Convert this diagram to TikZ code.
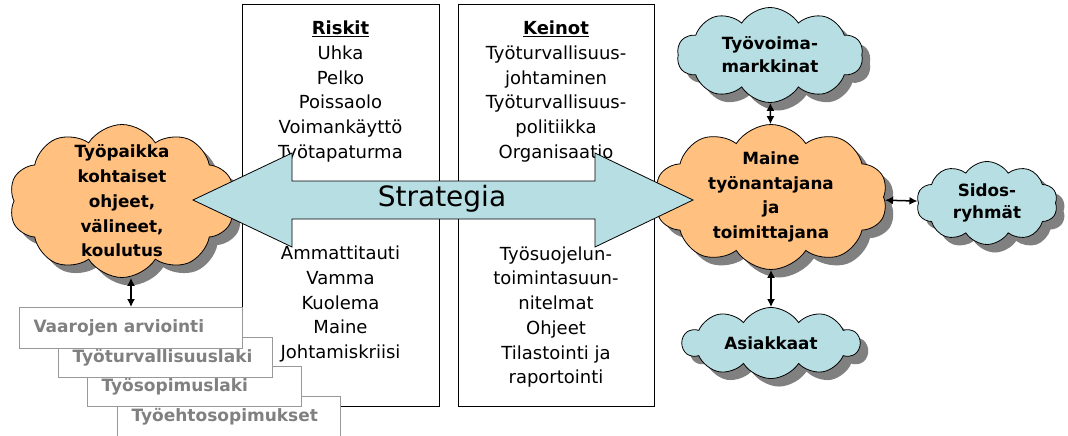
\documentclass[tikz,border=0pt]{standalone}
\usepackage{fontspec}
\setmainfont{DejaVu Sans}
\usetikzlibrary{shapes.symbols,shadows,arrows.meta}
\definecolor{oranssi}{RGB}{255,192,128}
\definecolor{vaaleansininen}{RGB}{183,222,226}
\definecolor{varjo}{RGB}{128,128,128}
\definecolor{harmaa}{RGB}{128,128,128}

\begin{document}
\begin{tikzpicture}[x=1pt, y=-1pt, line width=1pt,
		lista/.style={align=center, inner sep=0pt, font=\fontsize{18}{24.75}\selectfont},
		pilvi/.style={cloud, cloud puffs=10, cloud puff arc=115, draw=black, line width=0.8pt,
			align=center, inner sep=0pt, font=\bfseries\fontsize{16.8}{24.75}\selectfont,
			drop shadow={shadow xshift=8pt, shadow yshift=-8pt, fill=varjo, opacity=1}},
		isopilvi/.style={pilvi, fill=oranssi, inner sep=-30pt},
		laki/.style={draw=harmaa!80, fill=white, text=harmaa, align=left, inner xsep=14pt,
			minimum height=40pt, font=\bfseries\fontsize{17}{20}\selectfont},
		nuoli/.style={{Latex[length=8pt,width=8pt]}-{Latex[length=8pt,width=8pt]}, line width=1.5pt}]
	\useasboundingbox (0,0) rectangle (1068,436);
	% Riskit ja Keinot
	\draw (242,5) rectangle (439,406);
	\draw (458,5) rectangle (654,406);
	\node [lista] (riskitylä) at (340.5,91.5) {\textbf{\underline{Riskit}}\\Uhka\\Pelko\\Poissaolo\\Voimankäyttö\\Työtapaturma};
	\node [lista] (riskitala) at (340.5,304) {Ammattitauti\\Vamma\\Kuolema\\Maine\\Johtamiskriisi};
	\node [lista] (keinotylä) at (556,91.5) {\textbf{\underline{Keinot}}\\Työturvallisuus-\\johtaminen\\Työturvallisuus-\\politiikka\\Organisaatio};
	\node [lista] (keinotala) at (556,317) {Työsuojelun-\\toimintasuun-\\nitelmat\\Ohjeet\\Tilastointi ja\\raportointi};
	% Lait ja ohjeet
	\node [laki, anchor=north west, text width=195pt] (tyoehto) at (117,396) {Työehtosopimukset};
	\node [laki, anchor=north west, text width=186pt] (tyosopimus) at (87,366) {Työsopimuslaki};
	\node [laki, anchor=north west, text width=186pt] (tyoturva) at (58,337) {Työturvallisuuslaki};
	\node [laki, anchor=north west, text width=195pt, minimum height=41pt] (vaarat) at (19,307) {Vaarojen arviointi};
	% Pilvet
	\node [isopilvi, aspect=1.48, minimum width=226pt, minimum height=153pt] (tyopaikka) at (122,201) {Työpaikka\\kohtaiset\\ohjeet,\\välineet,\\koulutus};
	\node [isopilvi, aspect=1.6, minimum width=233pt, minimum height=145pt] (maine) at (771,197) {Maine\\työnantajana\\ja\\toimittajana};
	\node [pilvi, fill=vaaleansininen, aspect=1.96, minimum width=186pt, minimum height=95pt, font=\bfseries\fontsize{16.8}{23}\selectfont] (tyovoima) at (770,55) {Työvoima-\\markkinat};
	\node [pilvi, fill=vaaleansininen, aspect=1.7, minimum width=141pt, minimum height=83pt, font=\bfseries\fontsize{16.8}{22}\selectfont] (sidos) at (987,203) {Sidos-\\ryhmät};
	\node [pilvi, fill=vaaleansininen, aspect=2.57, minimum width=177pt, minimum height=69pt] (asiakkaat) at (771,343) {Asiakkaat};
	% Strategia-nuoli
	\draw [fill=vaaleansininen, line width=0.8pt] (193,200) -- (292,153) -- (292,181) -- (595,181) -- (595,153)
		-- (693,200) -- (595,247) -- (595,219) -- (292,219) -- (292,247) -- cycle;
	\node [font=\fontsize{28}{30}\selectfont] (strategia) at (442,199) {Strategia};
	% Yhteydet
	\draw [nuoli] (vaarat.north |- tyopaikka.south) -- (vaarat.north);
	\draw [nuoli] (tyovoima) -- (maine);
	\draw [nuoli] (maine) -- (sidos);
	\draw [nuoli] (maine) -- (asiakkaat);
\end{tikzpicture}
\end{document}
